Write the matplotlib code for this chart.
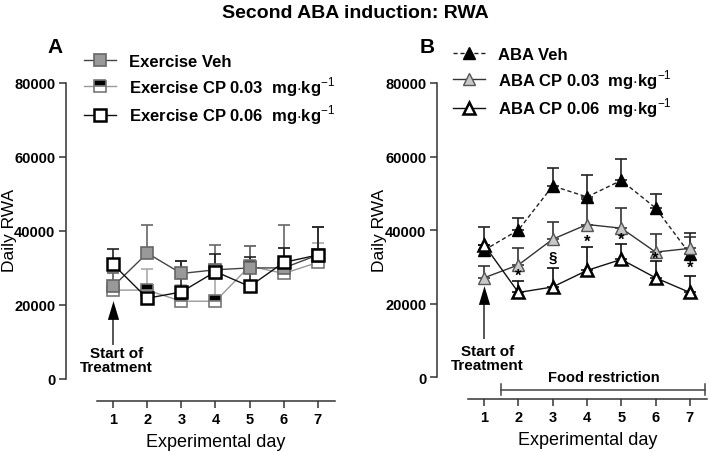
import numpy as np
import matplotlib.pyplot as plt
from matplotlib.lines import Line2D

plt.rcParams['font.family'] = ['Liberation Sans', 'DejaVu Sans']
plt.rcParams['mathtext.fontset'] = 'custom'
plt.rcParams['mathtext.rm'] = 'Liberation Sans'
plt.rcParams['mathtext.bf'] = 'Liberation Sans:bold'

days = [1, 2, 3, 4, 5, 6, 7]

# panel A - exercise groups
ex_veh = [25000, 34000, 28500, 29500, 30000, 30000, 33500]
ex_veh_err = [3500, 7500, 3300, 6700, 6000, 11500, 7500]
ex_cp03 = [24000, 24000, 21000, 21000, 30500, 28500, 31500]
ex_cp03_err = [5000, 5700, 4500, 6000, 5500, 7000, 5200]
ex_cp06 = [31000, 21800, 23500, 29000, 25000, 31500, 33500]
ex_cp06_err = [4000, 3700, 8300, 4700, 8000, 4000, 7500]

# panel B - ABA groups
aba_veh = [34500, 40000, 52000, 49000, 53500, 46000, 33500]
aba_veh_err = [6300, 3200, 5000, 6000, 5800, 3700, 5800]
aba_cp03 = [27000, 30500, 37500, 41500, 40500, 34000, 35000]
aba_cp03_err = [3200, 4500, 4700, 7000, 5500, 5000, 3000]
aba_cp06 = [36000, 23000, 24500, 29000, 32000, 27000, 23000]
aba_cp06_err = [0, 3000, 5300, 6500, 4300, 4500, 4600]

sig_days = [2, 3, 4, 5, 6, 7]
sig_y = [27700, 32600, 37000, 37600, 32300, 29900]
sig_txt = ['*', '§', '*', '*', '*', '*']

unit = r'  mg$\cdot$kg$^{-1}$'

fig = plt.figure(figsize=(7.09, 4.52), dpi=100)
axA = fig.add_axes([97/709, 1-402/452, 238/709, 318/452])
axB = fig.add_axes([468/709, 1-400/452, 239/709, 316/452])

ylo = -22/73.6*20000
for ax in (axA, axB):
    ax.set_xlim(0.53, 7.5)
    ax.set_ylim(ylo, 80000)
    ax.spines['top'].set_visible(False)
    ax.spines['right'].set_visible(False)
    ax.spines['left'].set_position(('outward', 22))
    ax.spines['left'].set_bounds(0, 80000)
    for s in ('left', 'bottom'):
        ax.spines[s].set_color('#333333')
        ax.spines[s].set_linewidth(1.1)
    ax.set_yticks([0, 20000, 40000, 60000, 80000])
    ax.set_xticks(days)
    ax.tick_params(direction='out', length=5, width=1.1, color='#333333', labelsize=10.5, pad=3)
    for lab in ax.get_xticklabels() + ax.get_yticklabels():
        lab.set_fontweight('bold')
    ax.set_xlabel('Experimental day', fontsize=13, labelpad=5)
    ax.set_ylabel('Daily RWA', fontsize=12.5)

axA.yaxis.set_label_coords(-(97-17)/238, (402-230)/318)
axB.yaxis.set_label_coords(-(468-387)/239, (400-230)/316)


def series(ax, y, err, ls, lc, ecol, **mk):
    ax.errorbar(days, y, yerr=[np.zeros(len(err)), err], fmt='none', ecolor=ecol,
                elinewidth=1.2, capsize=4.5, capthick=1.2, zorder=2)
    ax.plot(days, y, ls=ls, color=lc, lw=1.0, zorder=3, **mk)


# panel A
series(axA, ex_cp03, ex_cp03_err, '-', '#999999', '#aaaaaa', marker='s', ms=8,
       mfc='black', mfcalt='white', fillstyle='top', mec='#777777', mew=1.2)
series(axA, ex_veh, ex_veh_err, '-', '#444444', '#666666', marker='s', ms=8,
       mfc='#999999', mec='#666666', mew=1.2)
series(axA, ex_cp06, ex_cp06_err, '-', '#111111', '#222222', marker='s', ms=8,
       mfc='white', mec='black', mew=1.8)

# panel B
series(axB, aba_veh, aba_veh_err, (0, (3, 2)), '#222222', '#222222', marker='^', ms=8,
       mfc='black', mec='black', mew=1)
series(axB, aba_cp03, aba_cp03_err, '-', '#333333', '#333333', marker='^', ms=9,
       mfc='#c8c8c8', mec='#555555', mew=1)
series(axB, aba_cp06, aba_cp06_err, '-', '#111111', '#111111', marker='^', ms=9,
       mfc='white', mec='black', mew=1.8)

for d, yv, t in zip(sig_days, sig_y, sig_txt):
    axB.text(d, yv, t, ha='center', va='center', fontsize=12 if t == '*' else 11,
             fontweight='bold', zorder=5)

# start of treatment arrows: grey shaft, black head
head = [(-0.6, -1), (0.6, -1), (0, 1)]
for ax, hc, tail, ty in ((axA, 18700, 9500, 9000), (axB, 22300, 10600, 9000)):
    ax.plot([1, 1], [tail, hc], color='#555555', lw=1.4, zorder=4)
    ax.plot([1], [hc], marker=head, ms=13.5, color='black', mew=0, zorder=5)
    ax.text(1.1, ty, 'Start of\nTreatment', ha='center', va='top', fontsize=11,
            fontweight='bold', linespacing=1.05, zorder=5)

# food restriction bracket
fy = -3500
axB.plot([1.5, 7.45], [fy, fy], color='#444444', lw=1.1, clip_on=False)
for xe in (1.5, 7.45):
    axB.plot([xe, xe], [fy - 1500, fy + 1500], color='#444444', lw=1.1, clip_on=False)
axB.text(4.5, fy + 1500, 'Food restriction', ha='center', va='bottom', fontsize=10.5,
         fontweight='bold')

# legends
hA = [Line2D([], [], color='#444444', lw=1, marker='s', ms=8, mfc='#999999', mec='#666666', mew=1.2),
      Line2D([], [], color='#999999', lw=1, marker='s', ms=8, mfc='black', markerfacecoloralt='white',
             fillstyle='top', mec='#777777', mew=1.2),
      Line2D([], [], color='#111111', lw=1, marker='s', ms=8, mfc='white', mec='black', mew=1.8)]
lA = ['Exercise Veh', 'Exercise CP 0.03' + unit, 'Exercise CP 0.06' + unit]
hB = [Line2D([], [], color='#222222', lw=1, ls=(0, (3, 2)), marker='^', ms=8, mfc='black', mec='black'),
      Line2D([], [], color='#333333', lw=1, marker='^', ms=9, mfc='#c8c8c8', mec='#555555'),
      Line2D([], [], color='#111111', lw=1, marker='^', ms=9, mfc='white', mec='black', mew=1.8)]
lB = ['ABA Veh', 'ABA CP 0.03' + unit, 'ABA CP 0.06' + unit]

for ax, h, l, x0, y0 in ((axA, hA, lA, 84/709, 1-55/452), (axB, hB, lB, 453/709, 1-48/452)):
    leg = ax.legend(h, l, loc='upper left', bbox_to_anchor=(x0, y0), bbox_transform=fig.transFigure,
                    frameon=False, fontsize=12, handlelength=1.9, handletextpad=0.8,
                    labelspacing=0.3, borderpad=0, borderaxespad=0)
    for t in leg.get_texts():
        t.set_fontweight('bold')

fig.text(355/709, 1-13/452, 'Second ABA induction: RWA', ha='center', va='center',
         fontsize=14, fontweight='bold')
fig.text(55/709, 1-48/452, 'A', ha='center', va='center', fontsize=15, fontweight='bold')
fig.text(427/709, 1-48/452, 'B', ha='center', va='center', fontsize=15, fontweight='bold')

fig.savefig('out.png', dpi=100)
